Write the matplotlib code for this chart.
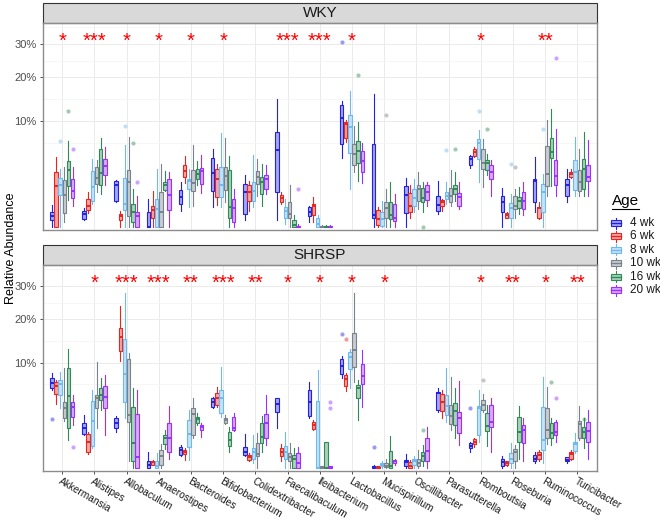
import numpy as np
import matplotlib
matplotlib.use('Agg')
import matplotlib.pyplot as plt
import matplotlib.transforms as mtransforms
from matplotlib.patches import Rectangle
from matplotlib.colors import to_rgba

plt.rcParams['font.family'] = ['Liberation Sans', 'DejaVu Sans']

genera = ['Akkermansia', 'Alistipes', 'Allobaculum', 'Anaerostipes', 'Bacteroides',
          'Bifidobacterium', 'Colidextribacter', 'Faecalibaculum', 'Ileibacterium',
          'Lactobacillus', 'Mucispirillum', 'Oscillibacter', 'Parasutterella',
          'Romboutsia', 'Roseburia', 'Ruminococcus', 'Turicibacter']
ages = ['4 wk', '6 wk', '8 wk', '10 wk', '16 wk', '20 wk']
colors = ['#2222E0', '#E8251E', '#6FB9EE', '#7A828C', '#2E8B57', '#9B30FF']

# relative abundance (%), one row per genus, one column per age
wky_lo = [[0, 0, 0, 0.02, 0.67, 0.41], [0.05, 0.17, 0.48, 1.08, 0.98, 1.59],
          [0.55, 0, 0, 0, 0, 0], [0, 0, 0, 0, 1.14, 0],
          [0.24, 1.74, 0.35, 0.41, 1.59, 1.04], [0.35, 0.44, 0.35, 0.56, 0, 0],
          [0.05, 0.24, 0.35, 0.88, 0.41, 0.98], [0.04, 0.48, 0.01, 0, 0, 0],
          [0.02, 0.02, 0, 0, 0, 0], [4.24, 6.45, 1.30, 2.69, 1.93, 1.74],
          [0, 0, 0, 0, 0, 0], [0, 0.08, 0.19, 0.29, 0.19, 0.41],
          [0.15, 0.24, 0.48, 0.41, 0.62, 0.29], [3.10, 4.37, 1.80, 1.42, 2.37, 0.85],
          [0, 0.07, 0, 0.08, 0.15, 0.12], [0.19, 0.06, 0, 0.88, 1.49, 0.85],
          [0.55, 2.13, 0.88, 0.85, 0.85, 0.85]]
wky_q1 = [[0.05, 0, 0.92, 0.18, 1.49, 0.74], [0.06, 0.27, 0.59, 1.66, 1.59, 2.37],
          [0.62, 0.05, 0.27, 0.10, 0.02, 0], [0, 0.08, 0, 0, 1.25, 0.26],
          [0.48, 2.22, 1.30, 1.19, 2.02, 1.66], [1.19, 0.79, 0.79, 1.21, 0.08, 0.02],
          [0.15, 0.62, 0.62, 1.66, 0.98, 1.30], [1.08, 0.55, 0.07, 0.07, 0, 0],
          [0.10, 0.13, 0, 0, 0, 0], [6.2, 7.08, 4.93, 3.39, 3.69, 2.69],
          [0.08, 0.004, 0.002, 0.07, 0.06, 0.03], [0.18, 0.21, 0.41, 0.62, 0.55, 0.67],
          [0.24, 0.41, 0.71, 0.58, 0.98, 0.41], [3.46, 4.49, 4.16, 2.96, 2.86, 2.02],
          [0.19, 0.08, 0.07, 0.29, 0.31, 0.29], [0.58, 0.07, 0.21, 1.49, 4.24, 1.59],
          [0.85, 2.22, 1.25, 1.19, 1.30, 1.93]]
wky_med = [[0.10, 1.51, 1.59, 0.92, 2.92, 1.17], [0.15, 0.41, 1.42, 2.13, 2.62, 3.31],
           [1.54, 0.10, 0.48, 1.80, 0.19, 0.10], [0, 0.27, 0.29, 0.19, 1.54, 0.92],
           [0.79, 2.79, 1.93, 1.74, 2.53, 2.82], [2.62, 2.07, 1.54, 2.31, 0.35, 0.31],
           [1.08, 1.12, 1.19, 2.22, 1.80, 2.02], [5.24, 0.74, 0.24, 0.15, 0.004, 0],
           [0.21, 0.41, 0.01, 0, 0, 0], [10.6, 9.42, 8.94, 4.80, 5.11, 3.84],
           [0.13, 0.06, 0.06, 0.31, 0.12, 0.08], [0.92, 0.41, 0.74, 1.30, 0.74, 1.08],
           [0.45, 0.55, 0.88, 0.88, 1.30, 0.79], [4.08, 5.02, 6.35, 3.69, 3.69, 2.69],
           [0.55, 0.13, 0.31, 0.41, 0.62, 0.62], [1.85, 0.31, 1.12, 2.53, 5.02, 2.31],
           [1.59, 2.50, 2.69, 1.80, 3.03, 2.22]]
wky_q3 = [[0.19, 2.69, 2.13, 1.99, 3.84, 2.07], [0.24, 0.71, 2.79, 3.2, 5.48, 4.16],
          [1.85, 0.15, 2.13, 2.92, 0.48, 0.21], [0.19, 0.41, 0.71, 1.08, 1.80, 2.02],
          [1.25, 3.46, 2.07, 2.92, 2.96, 3.13], [4.24, 3.03, 3.2, 3.2, 2.86, 0.71],
          [1.66, 1.54, 1.80, 2.76, 2.22, 2.43], [8.07, 0.92, 0.35, 0.58, 0.05, 0.002],
          [0.35, 0.48, 0.07, 0.002, 0.002, 0.002], [13.2, 9.86, 11.3, 6.2, 6.55, 5.11],
          [6.2, 0.26, 0.19, 0.55, 0.55, 0.48], [1.49, 1.04, 1.30, 1.59, 1.35, 1.54],
          [0.85, 0.67, 1.08, 1.35, 1.59, 1.04], [4.49, 5.38, 6.86, 5.38, 3.96, 3.39],
          [0.85, 0.18, 0.52, 0.85, 0.79, 1.08], [2.02, 0.35, 1.66, 5.86, 7.08, 3.96],
          [2.02, 2.69, 3.96, 2.86, 4.08, 3.46]]
wky_hi = [[0.44, 4.37, 3.03, 3.2, 6.6, 3.2], [0.31, 1.08, 4.16, 3.96, 7.08, 5.71],
          [1.96, 0.24, 5.95, 7.24, 1.30, 0.85], [0.71, 1.19, 3.03, 3.57, 2.76, 2.69],
          [1.80, 4.49, 3.03, 5.95, 3.84, 4.58], [5.38, 3.57, 7.95, 7.08, 4.49, 1.30],
          [2.37, 1.93, 4.58, 4.08, 3.57, 3.39], [14.6, 1.12, 0.71, 1.54, 0.12, 0.01],
          [0.41, 0.79, 0.12, 0.005, 0.005, 0.005], [14.1, 10.2, 16.5, 9.06, 9.86, 6.35],
          [15.7, 0.35, 0.62, 1.30, 1.80, 0.98], [2.13, 1.54, 2.02, 2.69, 1.80, 1.80],
          [1.93, 0.71, 1.80, 2.92, 2.69, 1.80], [4.58, 5.71, 8.35, 6.97, 4.80, 3.96],
          [1.35, 0.19, 0.98, 1.30, 1.42, 1.80], [4.37, 0.55, 2.53, 10.2, 12.4, 8.53],
          [3.03, 2.96, 7.24, 5.48, 8.07, 6.71]]

shrsp_lo = [[5.48, 3.65, 3.20, 1.99, 0.71, 1.66], [0.98, 0.17, 0.35, 1.46, 3.03, 0.98],
            [1.19, 10.3, 2.22, 0.04, 0, 0], [0, 0.01, 0, 0, 0.32, 0.08],
            [0.12, 0.06, 0.06, 0.79, 1.66, 0.88], [3.20, 3.39, 2.37, 1.72, 0.22, 1.23],
            [0.14, 0.04, 0.02, 0, 0.24, 0.48], [1.46, 0.04, 0, 0, 0, 0],
            [2.22, 1.30, 0, 0, 0, 0], [7.24, 5.34, 5.71, 6.71, 2.07, 3.39],
            [0, 0, 0, 0, 0, 0.01], [0, 0, 0, 0, 0.005, 0],
            [2.79, 2.22, 1.93, 1.30, 0.79, 0.48], [0.24, 0.41, 0.62, 2.86, 0.45, 0.22],
            [0, 0.005, 0, 0, 0.08, 0.04], [0.02, 0.04, 0.02, 0.50, 0.48, 0.62],
            [0.02, 0.06, 0.19, 0.71, 0.37, 0.08]]
shrsp_q1 = [[5.81, 4.88, 4.80, 2.22, 1.42, 2.37], [1.02, 0.24, 0.45, 3.20, 4.16, 3.20],
            [1.42, 12.3, 3.96, 1.93, 0.04, 0], [0, 0.01, 0, 0.01, 0.50, 0.24],
            [0.15, 0.17, 0.41, 0.98, 1.80, 1.30], [3.39, 3.57, 2.69, 1.80, 0.45, 1.30],
            [0.15, 0.06, 0.08, 0.12, 0.55, 0.79], [2.86, 0.12, 0.08, 0.04, 0, 0],
            [2.46, 1.37, 0, 0, 0, 0], [7.90, 6.10, 8.82, 9.24, 4.37, 6.30],
            [0, 0, 0.002, 0.001, 0, 0.02], [0.002, 0, 0.01, 0.002, 0.04, 0.04],
            [3.03, 2.92, 2.53, 1.72, 1.66, 1.08], [0.35, 0.50, 0.98, 3.03, 1.23, 1.54],
            [0.002, 0.01, 0.02, 0.04, 0.62, 0.55], [0.04, 0.08, 0.29, 0.79, 0.79, 0.98],
            [0.04, 0.08, 0.26, 0.83, 0.79, 0.59]]
shrsp_med = [[6.45, 6.10, 6.30, 3.20, 4.71, 3.39], [1.42, 0.62, 2.0, 4.45, 4.80, 4.58],
             [1.80, 15.5, 7.90, 2.53, 0.55, 0.10], [0.01, 0.03, 0.005, 0.12, 0.79, 0.83],
             [0.29, 0.24, 1.02, 2.59, 2.16, 1.49], [3.96, 4.37, 4.37, 2.07, 0.71, 1.46],
             [0.24, 0.10, 0.22, 0.17, 0.88, 1.80], [3.65, 0.22, 0.24, 0.10, 0.08, 0.02],
             [3.88, 1.66, 0, 0, 0, 0], [9.42, 7.13, 11.2, 12.5, 5.81, 7.67],
             [0.001, 0, 0.01, 0.005, 0.005, 0.04], [0.03, 0.005, 0.04, 0.02, 0.14, 0.26],
             [5.02, 3.96, 3.50, 2.46, 2.92, 2.22], [0.45, 0.62, 3.20, 3.57, 1.61, 1.93],
             [0.03, 0.02, 0.08, 0.22, 1.19, 1.30], [0.08, 0.15, 0.71, 1.30, 1.08, 1.14],
             [0.06, 0.17, 0.50, 1.72, 1.14, 1.23]]
shrsp_q3 = [[7.24, 6.60, 6.97, 3.96, 8.94, 3.96], [1.80, 1.02, 4.04, 4.80, 5.71, 6.10],
            [2.28, 17.6, 15.1, 10.8, 3.39, 2.59], [0.04, 0.04, 0.04, 0.29, 0.98, 1.80],
            [0.41, 0.29, 2.07, 3.28, 2.37, 1.66], [4.37, 5.02, 5.48, 2.28, 1.19, 2.37],
            [0.41, 0.15, 0.37, 0.55, 1.80, 2.59], [4.37, 0.35, 0.45, 0.19, 0.15, 0.19],
            [5.48, 1.93, 4.04, 0.002, 0.62, 0.002], [10.8, 7.78, 12.2, 16.5, 6.20, 9.67],
            [0.005, 0.002, 0.02, 0.02, 0.26, 0.06], [0.06, 0.03, 0.07, 0.08, 0.24, 0.83],
            [5.24, 4.88, 4.80, 3.57, 3.76, 2.86], [0.55, 0.76, 3.50, 4.16, 2.69, 3.57],
            [0.07, 0.04, 0.19, 0.32, 2.37, 1.66], [0.15, 0.22, 3.39, 3.20, 1.80, 1.93],
            [0.10, 0.24, 0.62, 1.99, 1.54, 1.93]]
shrsp_hi = [[8.07, 6.97, 8.35, 9.06, 12.7, 4.80], [2.53, 1.19, 5.48, 10.2, 7.34, 7.78],
            [2.46, 23.6, 27.5, 12.0, 5.81, 5.48], [0.22, 0.06, 0.19, 0.50, 1.30, 3.50],
            [0.48, 0.35, 3.03, 4.37, 2.69, 1.80], [4.58, 5.95, 9.24, 2.53, 1.54, 2.69],
            [1.02, 0.19, 0.98, 1.08, 2.46, 4.80], [4.45, 0.50, 1.14, 0.55, 0.37, 0.41],
            [6.71, 2.07, 8.64, 0.005, 0.62, 0.005], [11.4, 8.07, 12.7, 27.5, 6.97, 12.5],
            [0.01, 0.004, 0.04, 0.08, 0.94, 0.07], [0.17, 0.06, 0.12, 0.29, 0.48, 1.54],
            [5.81, 5.48, 8.94, 7.51, 5.71, 6.81], [0.62, 0.79, 5.48, 4.88, 3.57, 4.37],
            [0.12, 0.05, 0.55, 0.48, 3.50, 2.22], [0.22, 0.29, 7.51, 5.95, 2.22, 2.07],
            [0.11, 0.29, 1.08, 3.50, 2.22, 3.03]]

wky_stars = ['*', '***', '*', '*', '*', '*', '', '***', '***', '*', '', '', '', '*', '', '**', '']
shrsp_stars = ['', '*', '***', '***', '**', '***', '**', '*', '*', '*', '*', '', '', '*', '**', '*', '**']

# single points sitting outside the boxes: panel (0 WKY, 1 SHRSP), genus, age, value
out_panel = [0, 0, 0, 0, 0, 0, 0, 0, 0, 0, 0, 0, 0, 0, 0, 0, 0, 0, 0,
             1, 1, 1, 1, 1, 1, 1, 1, 1, 1, 1, 1, 1]
out_genus = [0, 0, 0, 2, 2, 2, 7, 9, 9, 10, 12, 12, 13, 13, 14, 14, 15, 15, 11,
             0, 0, 8, 8, 9, 9, 10, 13, 13, 15, 15, 16, 11]
out_age = [2, 4, 5, 2, 4, 5, 5, 0, 4, 3, 2, 4, 2, 4, 2, 3, 2, 5, 4,
           0, 5, 5, 5, 0, 1, 0, 0, 3, 4, 5, 4, 4]
out_value = [6.6, 12.0, 5.5, 9.2, 6.35, 1.8, 1.3, 30.7, 20.6, 11.2, 5.24, 5.4, 12.0, 8.5, 3.5, 3.2, 8.6, 25.4, 0,
             2.2, 0.41, 3.96, 3.2, 16.3, 14.9, 0.41, 3.3, 7.0, 6.6, 4.4, 2.2, 1.3]


def fwd(v):
    return np.sign(v) * np.sqrt(np.abs(v))


def inv(v):
    return np.sign(v) * v**2


fig = plt.figure(figsize=(6.6, 5.21), dpi=100)
panels = [('WKY', wky_lo, wky_q1, wky_med, wky_q3, wky_hi, wky_stars, [0.065, 0.5585, 0.839, 0.397]),
          ('SHRSP', shrsp_lo, shrsp_q1, shrsp_med, shrsp_q3, shrsp_hi, shrsp_stars, [0.065, 0.096, 0.839, 0.395])]
x = np.arange(len(genera))
step = 0.13

for p, (name, lo, q1, med, q3, hi, stars, rect) in enumerate(panels):
    ax = fig.add_axes(rect)
    ax.set_yscale('function', functions=(fwd, inv))
    for a, c in enumerate(colors):
        stats = [dict(whislo=lo[g][a], q1=q1[g][a], med=med[g][a], q3=q3[g][a],
                      whishi=hi[g][a], fliers=[]) for g in range(len(genera))]
        ax.bxp(stats, positions=x + (a - 2.5) * step, widths=0.11, patch_artist=True,
               showcaps=False, showfliers=False, manage_ticks=False,
               boxprops=dict(facecolor=to_rgba(c, 0.4), edgecolor=c, linewidth=0.8),
               whiskerprops=dict(color=c, linewidth=0.8),
               medianprops=dict(color=c, linewidth=1.4))
    for g, a, v, pp in zip(out_genus, out_age, out_value, out_panel):
        if pp == p:
            ax.scatter(g + (a - 2.5) * step, v, s=9, color=colors[a], alpha=0.45, lw=0, zorder=3)

    trans = mtransforms.blended_transform_factory(ax.transData, ax.transAxes)
    for g, s in enumerate(stars):
        if s:
            ax.text(g, 0.886, s, transform=trans, ha='center', va='baseline',
                    color='red', fontsize=14.5)

    ax.set_xlim(-0.6, len(genera) - 0.4)
    ax.set_ylim(-0.0081, 37.1)
    ax.set_yticks([10, 20, 30])
    ax.set_yticklabels(['10%', '20%', '30%'])
    ax.set_yticks([6.3, 14.6, 24.7, 35.7], minor=True)
    ax.yaxis.set_minor_formatter(plt.NullFormatter())
    ax.set_xticks(x)
    ax.grid(True, which='major', color='#EBEBEB', lw=0.7)
    ax.grid(True, which='minor', axis='y', color='#F3F3F3', lw=0.5)
    ax.set_axisbelow(True)
    ax.tick_params(axis='y', which='major', labelsize=8, labelcolor='#4D4D4D',
                   color='#333333', length=2.5, width=0.6, pad=2)
    ax.tick_params(axis='y', which='minor', length=0)
    for sp in ax.spines.values():
        sp.set_color('#8C8C8C')
        sp.set_linewidth(1.0)
    if p == 0:
        ax.tick_params(axis='x', length=0, labelbottom=False)
    else:
        ax.tick_params(axis='x', length=2.5, width=0.6, color='#333333', pad=1)
        ax.set_xticklabels(genera, rotation=-30, ha='left', va='top',
                           rotation_mode='anchor', fontsize=7.3, color='#1A1A1A')

    # facet strip
    sh = 20.5 / (rect[3] * 521)
    ax.add_patch(Rectangle((0, 1), 1, sh, transform=ax.transAxes, clip_on=False,
                           facecolor='#D9D9D9', edgecolor='#333333', lw=0.8))
    ax.text(0.5, 1 + sh / 2, name, transform=ax.transAxes, ha='center', va='center',
            fontsize=11, color='#1A1A1A')

fig.text(0.016, 0.524, 'Relative Abundance', rotation=90, ha='center', va='center', fontsize=9)

# legend drawn in pixel coordinates
lax = fig.add_axes([0, 0, 1, 1])
lax.set_xlim(0, 660)
lax.set_ylim(521, 0)
lax.axis('off')
lax.text(612, 201, 'Age', fontsize=11, ha='left', va='center')
lax.plot([612, 639], [208.5, 208.5], color='black', lw=0.8)
for i, (lab, c) in enumerate(zip(ages, colors)):
    yc = 223 + 13.4 * i
    lax.add_patch(Rectangle((611, yc - 3), 10, 6, facecolor=to_rgba(c, 0.4), edgecolor=c, lw=0.8))
    lax.plot([611, 621], [yc, yc], color=c, lw=1.0)
    lax.plot([616, 616], [yc - 5.5, yc - 3], color=c, lw=0.8)
    lax.plot([616, 616], [yc + 3, yc + 5.5], color=c, lw=0.8)
    lax.text(630, yc, lab, fontsize=8.5, ha='left', va='center', color='#1A1A1A')

plt.savefig('out.png', dpi=100)
